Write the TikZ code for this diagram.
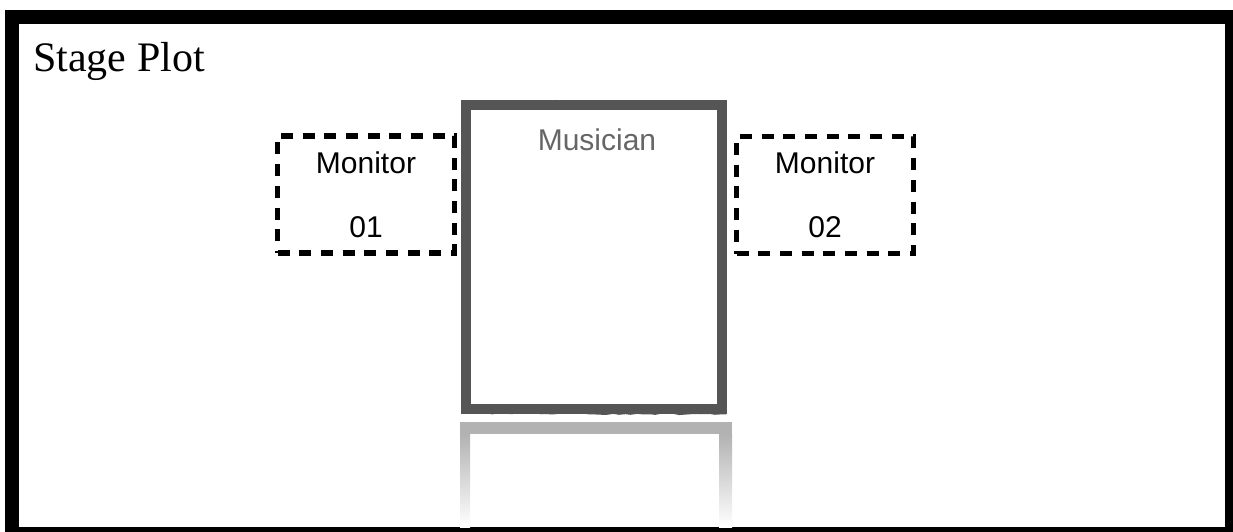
\documentclass[tikz,border=0pt]{standalone}
\usepackage{fontspec}
\setmainfont{Liberation Serif}
\newfontfamily\monfont{Liberation Sans}
\usetikzlibrary{decorations.pathmorphing}
\definecolor{brushgray}{RGB}{85,85,85}
\definecolor{refgray}{RGB}{178,178,178}

\begin{document}
\begin{tikzpicture}[x=1pt,y=-1pt,
    monbox/.style={draw, line width=5.5pt, dash pattern=on 12pt off 9.7pt,
      minimum width=177pt, minimum height=117pt, inner sep=0pt, align=center,
      font=\monfont\fontsize{30}{64}\selectfont},
    brush/.style={draw=brushgray, line width=#1, decorate,
      decoration={random steps, segment length=6pt, amplitude=0.8pt}}]
    \useasboundingbox (0,0) rectangle (1233,532);

    % Draw the frame
    \draw[line width=14pt] (12,17) rectangle (1232,534);
    \node (title) [anchor=base west, inner sep=0pt, font=\fontsize{42}{50}\selectfont] at (33,72) {Stage Plot};

    % Draw the monitors
    \node (mon1) [monbox] at (366,194.5) {Monitor\\01};
    \node (mon2) [monbox] at (825,195) {Monitor\\02};

    % Draw the musician
    \node (musician) [draw=brushgray, line width=10pt, minimum width=256pt, minimum height=304pt] at (594,257) {};
    \draw[brush=3pt] (520,102) -- (724,103);
    \draw[brush=3pt] (723,108) -- (724,405);
    \draw[brush=3pt] (463,412) -- (726,413);
    \node (mustext) [anchor=base, text=brushgray!90, font=\monfont\fontsize{30}{36}\selectfont] at (597,150) {Musician};

    % Draw the reflection
    \fill[refgray] (460,422) rectangle (732,434);
    \shade[top color=refgray, bottom color=white] (460,434) rectangle (470,527);
    \shade[top color=refgray, bottom color=white] (719,434) rectangle (732,527);
\end{tikzpicture}
\end{document}
